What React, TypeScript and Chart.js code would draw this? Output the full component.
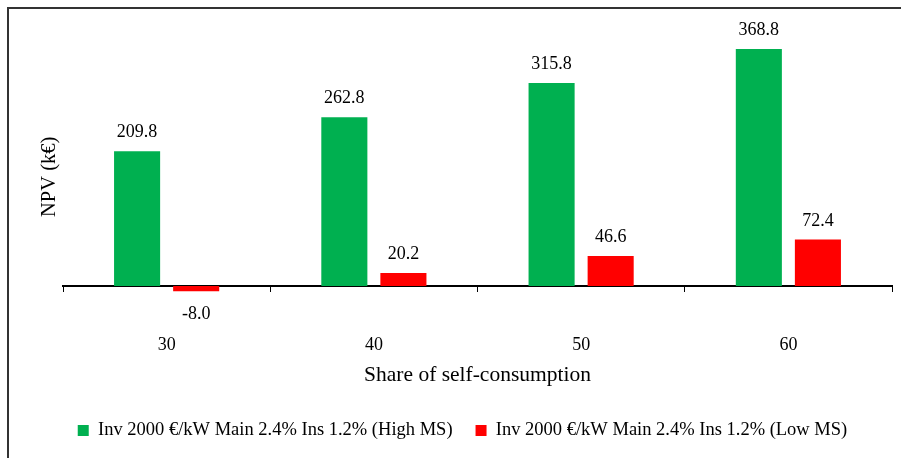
import React, { useEffect, useRef } from "react";
import { Chart, registerables } from "chart.js";

Chart.register(...registerables);

const categories = ["30", "40", "50", "60"];
const highMS = [209.8, 262.8, 315.8, 368.8];
const lowMS = [-8.0, 20.2, 46.6, 72.4];
const seriesNames = [
  "Inv 2000 €/kW Main 2.4% Ins 1.2% (High MS)",
  "Inv 2000 €/kW Main 2.4% Ins 1.2% (Low MS)",
];
const xTitle = "Share of self-consumption";
const yTitle = "NPV (k€)";

const FONT = "'Liberation Serif', serif";

const frame = {
  id: "frame",
  beforeDraw(chart: any) {
    const { ctx, width, height } = chart;
    ctx.save();
    ctx.fillStyle = "#fff";
    ctx.fillRect(0, 0, width, height);
    ctx.strokeStyle = "#333";
    ctx.lineWidth = 2;
    ctx.beginPath();
    ctx.moveTo(8, height);
    ctx.lineTo(8, 8);
    ctx.lineTo(width, 8);
    ctx.stroke();
    ctx.restore();
  },
};

const valueLabels = {
  id: "valueLabels",
  afterDatasetsDraw(chart: any) {
    const { ctx } = chart;
    ctx.save();
    ctx.font = `18px ${FONT}`;
    ctx.fillStyle = "#000";
    ctx.textAlign = "center";
    chart.data.datasets.forEach((ds: any, i: number) => {
      const meta = chart.getDatasetMeta(i);
      meta.data.forEach((bar: any, j: number) => {
        const v = ds.data[j];
        const txt = v.toFixed(1);
        if (v >= 0) {
          ctx.textBaseline = "alphabetic";
          ctx.fillText(txt, bar.x, bar.y - 14);
        } else {
          ctx.textBaseline = "top";
          ctx.fillText(txt, bar.x, bar.y + 14);
        }
      });
    });
    ctx.restore();
  },
};

export default function App() {
  const ref = useRef<HTMLCanvasElement>(null);
  useEffect(() => {
    if (!ref.current) return;
    const chart = new Chart(ref.current, {
      type: "bar",
      data: {
        labels: categories,
        datasets: [
          {
            label: seriesNames[0],
            data: highMS,
            backgroundColor: "#00B050",
            borderWidth: 0,
            barPercentage: 0.78,
            categoryPercentage: 0.57,
          },
          {
            label: seriesNames[1],
            data: lowMS,
            backgroundColor: "#FF0000",
            borderWidth: 0,
            barPercentage: 0.78,
            categoryPercentage: 0.57,
          },
        ],
      },
      options: {
        responsive: false,
        animation: false,
        layout: { padding: { left: 33, right: 9, top: 29, bottom: 8.25 } },
        plugins: {
          tooltip: { enabled: false },
          legend: {
            position: "bottom",
            labels: {
              boxWidth: 11,
              boxHeight: 11,
              padding: 23,
              color: "#000",
              font: { family: FONT, size: 18.5 },
            },
          },
        },
        scales: {
          x: {
            type: "category",
            position: { y: 0 } as any,
            offset: true,
            grid: {
              display: true,
              drawOnChartArea: false,
              drawTicks: true,
              tickLength: 5,
              color: "#000",
              lineWidth: 1,
              offset: true,
            },
            border: { display: true, color: "#000", width: 2 },
            ticks: { padding: 43, color: "#000", font: { family: FONT, size: 18 } },
          },
          x2: {
            type: "category",
            labels: categories,
            position: "bottom",
            grid: { display: false, drawTicks: false },
            border: { display: false },
            ticks: { display: false },
            title: {
              display: true,
              text: xTitle,
              color: "#000",
              font: { family: FONT, size: 21.5 },
              padding: { top: 37.5, bottom: 10.35 },
            },
          },
          y: {
            min: -60,
            max: 400,
            grid: { display: false, drawTicks: false },
            border: { display: false },
            ticks: { display: false },
            title: {
              display: true,
              text: yTitle,
              color: "#000",
              font: { family: FONT, size: 20.5 },
              padding: { top: 4.7, bottom: 0.7 },
            },
          },
        },
      },
      plugins: [frame, valueLabels],
    });
    return () => chart.destroy();
  }, []);
  return (
    <div style={{ position: "fixed", left: 0, top: 0, width: 901, height: 458 }}>
      <canvas ref={ref} width={901} height={458} />
    </div>
  );
}
